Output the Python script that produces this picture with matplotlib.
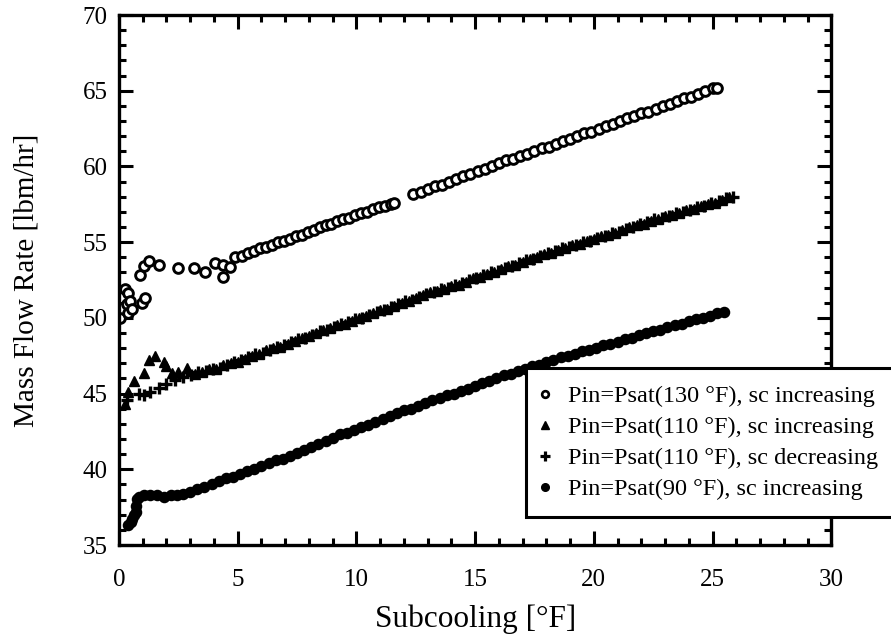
import matplotlib
matplotlib.use("Agg")
import matplotlib.pyplot as plt
from matplotlib.ticker import MultipleLocator

plt.rcParams['font.family'] = ['Liberation Serif', 'DejaVu Serif']

# Pin = Psat(130 F), subcooling increasing
x_130 = [0.06, 0.25, 0.34, 0.40, 0.40, 0.46, 0.55, 0.97, 1.10, 0.90, 1.04, 1.25,
         1.67, 2.50, 3.14, 3.63, 4.05, 4.40, 4.40, 4.68, 4.90,
         5.2, 5.45, 5.7, 5.95, 6.2, 6.45, 6.7, 6.95, 7.2, 7.45, 7.7, 7.95, 8.2,
         8.45, 8.7, 8.95, 9.2, 9.45, 9.7, 9.95, 10.2, 10.45, 10.7, 10.95, 11.2,
         11.45, 11.6,
         12.4, 12.7, 13.0, 13.3, 13.6, 13.9, 14.2, 14.5, 14.8, 15.1, 15.4, 15.7,
         16.0, 16.3, 16.6, 16.9, 17.2, 17.5, 17.8, 18.1, 18.4, 18.7, 19.0, 19.3,
         19.6, 19.9, 20.2, 20.5, 20.8, 21.1, 21.4, 21.7, 22.0, 22.3, 22.6, 22.9,
         23.2, 23.5, 23.8, 24.1, 24.4, 24.7, 25.0, 25.2]
y_130 = [50.0, 51.9, 50.9, 50.3, 51.65, 51.1, 50.6, 51.0, 51.3, 52.8, 53.4, 53.75,
         53.5, 53.3, 53.3, 53.05, 53.6, 53.5, 52.7, 53.35, 54.0,
         54.1, 54.3, 54.4, 54.6, 54.7, 54.8, 55.0, 55.1, 55.2, 55.4, 55.5, 55.7, 55.8,
         56.0, 56.1, 56.2, 56.4, 56.5, 56.6, 56.8, 56.9, 57.0, 57.2, 57.3, 57.4,
         57.5, 57.6,
         58.2, 58.3, 58.5, 58.7, 58.8, 59.0, 59.2, 59.4, 59.5, 59.7, 59.8, 60.0,
         60.2, 60.4, 60.5, 60.7, 60.8, 61.0, 61.2, 61.3, 61.5, 61.7, 61.8, 62.0,
         62.2, 62.3, 62.5, 62.7, 62.8, 63.0, 63.2, 63.3, 63.5, 63.6, 63.8, 64.0,
         64.1, 64.3, 64.5, 64.6, 64.8, 65.0, 65.2, 65.2]

# Pin = Psat(110 F), subcooling increasing
x_110_inc = [0.27, 0.40, 0.62, 1.04, 1.25, 1.53, 1.88, 2.00, 2.23, 2.50, 2.86,
             3.2, 3.5, 3.8, 4.1, 4.4, 4.7, 5.0, 5.3, 5.6, 5.9, 6.2, 6.5, 6.8,
             7.1, 7.4, 7.7, 8.0, 8.3, 8.6, 8.9, 9.2, 9.5, 9.8, 10.1, 10.4, 10.7,
             11.0, 11.3, 11.6, 11.9, 12.2, 12.5, 12.8, 13.1, 13.4, 13.7, 14.0,
             14.3, 14.6, 14.9, 15.2, 15.5, 15.8, 16.1, 16.4, 16.7, 17.0, 17.3,
             17.6, 17.9, 18.2, 18.5, 18.8, 19.1, 19.4, 19.7, 20.0, 20.3, 20.6,
             20.9, 21.2, 21.5, 21.8, 22.1, 22.4, 22.7, 23.0, 23.3, 23.6, 23.9,
             24.2, 24.5, 24.8, 25.1, 25.4, 25.7]
y_110_inc = [44.3, 45.1, 45.8, 46.35, 47.2, 47.45, 47.1, 46.8, 46.35, 46.45, 46.7,
             46.3, 46.4, 46.6, 46.6, 46.9, 47.0, 47.1, 47.3, 47.5, 47.6, 47.9, 48.0,
             48.1, 48.3, 48.5, 48.7, 48.8, 49.0, 49.2, 49.3, 49.5, 49.6, 49.8, 50.0,
             50.1, 50.3, 50.5, 50.6, 50.8, 51.0, 51.1, 51.3, 51.5, 51.7, 51.8, 51.9,
             52.1, 52.2, 52.4, 52.6, 52.7, 52.9, 53.0, 53.2, 53.4, 53.5, 53.7, 53.9,
             54.0, 54.2, 54.3, 54.5, 54.6, 54.8, 54.9, 55.1, 55.2, 55.4, 55.5, 55.6,
             55.8, 56.0, 56.1, 56.2, 56.4, 56.5, 56.7, 56.8, 56.9, 57.1, 57.2, 57.4,
             57.5, 57.6, 57.8, 58.0]

# Pin = Psat(110 F), subcooling decreasing
x_110_dec = [0.35, 0.83, 1.04, 1.30, 1.67, 2.00, 2.37, 2.70,
             3.05, 3.35, 3.65, 3.95, 4.25, 4.55, 4.85, 5.15, 5.45, 5.75, 6.05,
             6.35, 6.65, 6.95, 7.25, 7.55, 7.85, 8.15, 8.45, 8.75, 9.05, 9.35,
             9.65, 9.95, 10.25, 10.55, 10.85, 11.15, 11.45, 11.75, 12.05, 12.35,
             12.65, 12.95, 13.25, 13.55, 13.85, 14.15, 14.45, 14.75, 15.05, 15.35,
             15.65, 15.95, 16.25, 16.55, 16.85, 17.15, 17.45, 17.75, 18.05, 18.35,
             18.65, 18.95, 19.25, 19.55, 19.85, 20.15, 20.45, 20.75, 21.05, 21.35,
             21.65, 21.95, 22.25, 22.55, 22.85, 23.15, 23.45, 23.75, 24.05, 24.35,
             24.65, 24.95, 25.25, 25.55, 25.85]
y_110_dec = [44.6, 45.0, 44.9, 45.1, 45.35, 45.6, 45.9, 46.1,
             46.2, 46.4, 46.5, 46.6, 46.7, 46.9, 47.1, 47.2, 47.4, 47.6, 47.7,
             47.9, 48.1, 48.2, 48.4, 48.6, 48.7, 48.9, 49.1, 49.2, 49.4, 49.6,
             49.7, 49.9, 50.0, 50.2, 50.4, 50.5, 50.7, 50.9, 51.1, 51.2,
             51.4, 51.6, 51.7, 51.9, 52.0, 52.2, 52.3, 52.5, 52.6, 52.8,
             53.0, 53.1, 53.3, 53.4, 53.6, 53.8, 53.9, 54.1, 54.3, 54.4,
             54.6, 54.7, 54.8, 55.0, 55.1, 55.3, 55.4, 55.6, 55.7, 55.9,
             56.0, 56.2, 56.3, 56.5, 56.6, 56.7, 56.9, 57.0, 57.1, 57.3,
             57.4, 57.6, 57.7, 57.9, 58.0]

# Pin = Psat(90 F), subcooling increasing
x_90 = [0.40, 0.50, 0.55, 0.62, 0.70, 0.73, 0.76, 0.85, 1.04, 1.30, 1.60, 1.90,
        2.20, 2.44, 2.70, 3.00,
        3.3, 3.6, 3.9, 4.2, 4.5, 4.8, 5.1, 5.4, 5.7, 6.0, 6.3, 6.6, 6.9, 7.2,
        7.5, 7.8, 8.1, 8.4, 8.7, 9.0, 9.3, 9.6, 9.9, 10.2, 10.5, 10.8, 11.1,
        11.4, 11.7, 12.0, 12.3, 12.6, 12.9, 13.2, 13.5, 13.8, 14.1, 14.4, 14.7,
        15.0, 15.3, 15.6, 15.9, 16.2, 16.5, 16.8, 17.1, 17.4, 17.7, 18.0, 18.3,
        18.6, 18.9, 19.2, 19.5, 19.8, 20.1, 20.4, 20.7, 21.0, 21.3, 21.6, 21.9,
        22.2, 22.5, 22.8, 23.1, 23.4, 23.7, 24.0, 24.3, 24.6, 24.9, 25.2, 25.5]
y_90 = [36.3, 36.5, 36.75, 37.0, 37.2, 37.6, 38.05, 38.2, 38.3, 38.3, 38.3, 38.2,
        38.3, 38.3, 38.4, 38.5,
        38.7, 38.8, 39.0, 39.2, 39.4, 39.5, 39.7, 39.9, 40.0, 40.2, 40.4, 40.6,
        40.7, 40.9, 41.1, 41.3, 41.5, 41.7, 41.9, 42.1, 42.3, 42.4, 42.6, 42.8,
        42.9, 43.1, 43.3, 43.5, 43.7, 43.9, 44.0, 44.2, 44.4, 44.6, 44.7, 44.9,
        45.0, 45.2, 45.3, 45.5, 45.7, 45.8, 46.0, 46.2, 46.3, 46.5, 46.6, 46.8,
        46.9, 47.1, 47.2, 47.4, 47.5, 47.6, 47.8, 47.9, 48.0, 48.2, 48.3, 48.4,
        48.6, 48.7, 48.9, 49.0, 49.1, 49.2, 49.4, 49.5, 49.6, 49.8, 49.9, 50.0,
        50.1, 50.3, 50.4]

labels = ["Pin=Psat(130 °F), sc increasing",
          "Pin=Psat(110 °F), sc increasing",
          "Pin=Psat(110 °F), sc decreasing",
          "Pin=Psat(90 °F), sc increasing"]

x_ticks = [0, 5, 10, 15, 20, 25, 30]
y_ticks = [35, 40, 45, 50, 55, 60, 65, 70]

fig = plt.figure(figsize=(8.91, 6.44), dpi=100)
ax = fig.add_axes([0.1335, 0.1537, 0.7995, 0.8230])

ax.plot(x_130, y_130, linestyle='none', marker='o', markersize=7,
        markerfacecolor='white', markeredgecolor='black', markeredgewidth=2.1)
ax.plot(x_110_inc, y_110_inc, linestyle='none', marker='^', markersize=7.5,
        color='black')
ax.plot(x_110_dec, y_110_dec, linestyle='none', marker='+', markersize=8,
        markeredgewidth=2.4, color='black')
ax.plot(x_90, y_90, linestyle='none', marker='o', markersize=7.3,
        color='black')

ax.set_xlim(0, 30)
ax.set_ylim(35, 70)
ax.set_xticks(x_ticks)
ax.set_yticks(y_ticks)
ax.xaxis.set_minor_locator(MultipleLocator(1))
ax.yaxis.set_minor_locator(MultipleLocator(1))
ax.tick_params(which='both', direction='in', top=True, right=True, width=2.2,
               labelsize=18)
ax.tick_params(axis='y', pad=8)
ax.tick_params(axis='x', pad=17)
ax.tick_params(which='major', length=10)
ax.tick_params(which='minor', length=5)
for sp in ax.spines.values():
    sp.set_linewidth(2.4)

ax.set_xlabel("Subcooling [°F]", fontsize=22.5, labelpad=10)
ax.set_ylabel("Mass Flow Rate [lbm/hr]", fontsize=21)
ax.yaxis.set_label_coords(-0.111, 0.5)

# legend handles drawn smaller than the data markers
leg_h = [
    plt.Line2D([], [], linestyle='none', marker='o', markersize=4.8,
               markerfacecolor='white', markeredgecolor='black', markeredgewidth=1.9),
    plt.Line2D([], [], linestyle='none', marker='^', markersize=5.5, color='black'),
    plt.Line2D([], [], linestyle='none', marker='+', markersize=6.5,
               markeredgewidth=2.3, color='black'),
    plt.Line2D([], [], linestyle='none', marker='o', markersize=5.5, color='black'),
]
leg = fig.legend(leg_h, labels, loc='upper left',
                 bbox_to_anchor=(0.590, 0.428), bbox_transform=fig.transFigure,
                 fontsize=17.5, frameon=True, fancybox=False, borderaxespad=0,
                 borderpad=0.7, labelspacing=0.37, handlelength=0.2,
                 handletextpad=0.83)
leg.get_frame().set_edgecolor('black')
leg.get_frame().set_linewidth(2.2)
leg.get_frame().set_facecolor('white')
leg.get_frame().set_alpha(1)

fig.savefig("out.png", dpi=100)
